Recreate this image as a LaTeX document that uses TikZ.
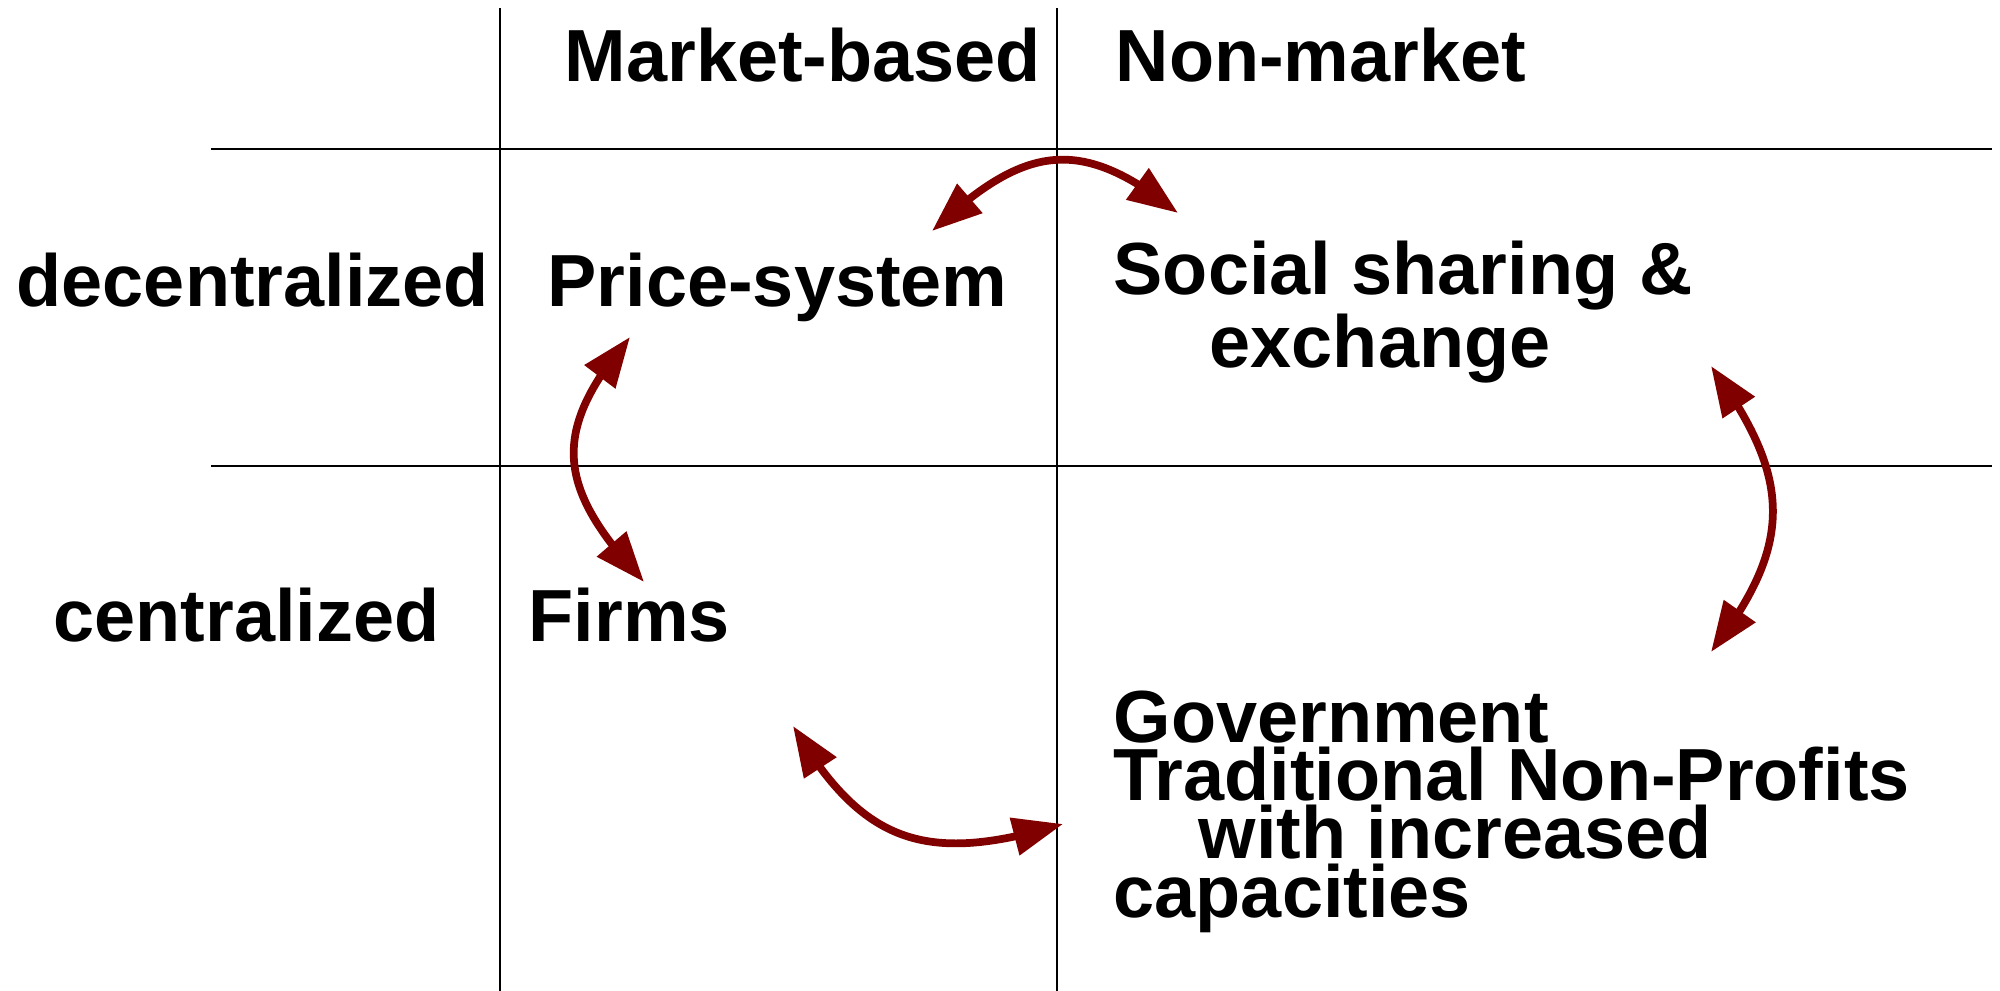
\documentclass[tikz,border=0pt]{standalone}
\usepackage{fontspec}
\setmainfont{Liberation Sans}
\usetikzlibrary{arrows.meta,bending}
\definecolor{darkred}{RGB}{128,0,0}

\begin{document}
\begin{tikzpicture}[x=0.01cm,y=-0.01cm,
  lbl/.style={anchor=base west,inner sep=0pt,align=left,
    font=\bfseries\fontsize{21pt}{16.5pt}\selectfont},
  grid/.style={line width=0.8pt},
  flow/.style={color=darkred,line width=2.2pt,
    {Triangle[length=0.5cm,width=0.37cm]}-{Triangle[length=0.5cm,width=0.37cm]}}]
\useasboundingbox (0,0) rectangle (2000,991);

% Grid
\draw[grid] (500,8) -- (500,991);
\draw[grid] (1057,8) -- (1057,991);
\draw[grid] (211,149) -- (1992,149);
\draw[grid] (211,466) -- (1992,466);

% Headers
\node[lbl] (market) at (564,82) {Market-based};
\node[lbl] (nonmarket) at (1115,82) {Non-market};
\node[lbl] (decentral) at (16,307) {decentralized};
\node[lbl] (central) at (53,641) {centralized};

% Cells (base = last line)
\node[lbl] (price) at (547,307) {Price-system};
\node[lbl] (social) at (1113,367) {Social sharing \&\\\hspace*{0.96cm}exchange};
\node[lbl] (firms) at (528,641) {Firms};
\node[lbl] (gov) at (1113,917) {Government\\Traditional Non-Profits\\\hspace*{0.85cm}with increased\\capacities};

% Arrow ends
\coordinate (price-e) at (932,231);
\coordinate (social-w) at (1178,213);
\coordinate (price-s) at (630,337);
\coordinate (firms-n) at (644,582);
\coordinate (firms-e) at (793,726);
\coordinate (gov-w) at (1063,824);
\coordinate (social-s) at (1711,366);
\coordinate (gov-n) at (1711,652);

% Arrows
\draw[flow] (price-e) .. controls +(92,-86) and +(-98,-79) .. (social-w);
\draw[flow] (price-s) .. controls +(-82,97) and +(-86,-93) .. (firms-n);
\draw[flow] (firms-e) .. controls +(71,121) and +(-134,40) .. (gov-w);
\draw[flow] (social-s) .. controls +(81,112) and +(84,-109) .. (gov-n);
\end{tikzpicture}
\end{document}
